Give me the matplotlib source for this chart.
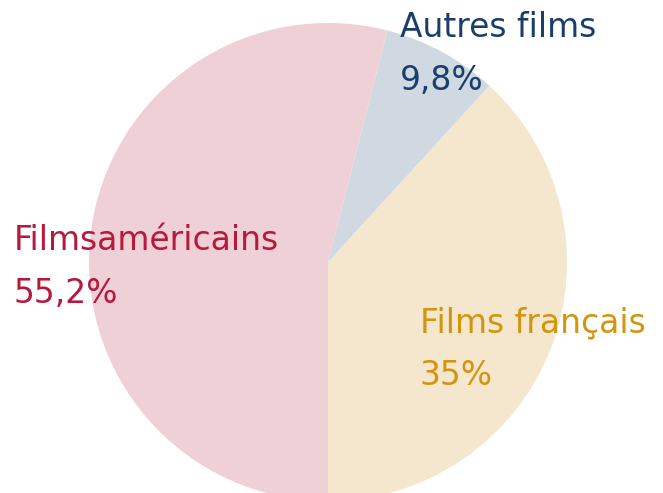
import matplotlib
matplotlib.use("Agg")
import matplotlib.pyplot as plt

# Data (wedge shares as drawn; labels as printed)
categories = ["Films français", "Autres films", "Filmsaméricains"]
shares = [38.2, 7.8, 54.0]
pct_labels = ["35%", "9,8%", "55,2%"]

wedge_colors = ["#F4E7CE", "#D0D9E2", "#F0D0D7"]
text_colors = ["#D4950D", "#1A3D6B", "#B7183C"]

W, H = 663, 493
fig = plt.figure(figsize=(W / 100, H / 100), dpi=100)
ax = fig.add_axes([0, 0, 1, 1])

ax.pie(shares, colors=wedge_colors, startangle=-90, counterclock=True,
       center=(328, H - 262), radius=239, frame=True,
       wedgeprops=dict(linewidth=0))
ax.set_xlim(0, W)
ax.set_ylim(0, H)
ax.set_aspect("equal")
ax.axis("off")

# label positions (pixel coords from top-left): x, name baseline, pct baseline
pos = [(420, 332, 385), (400, 37, 90), (14, 250, 303)]
fs = 23.7
for cat, pct, col, (x, yb1, yb2) in zip(categories, pct_labels, text_colors, pos):
    ax.text(x, H - yb1, cat, color=col, fontsize=fs, ha="left", va="baseline",
            family="DejaVu Sans")
    ax.text(x, H - yb2, pct, color=col, fontsize=fs, ha="left", va="baseline",
            family="DejaVu Sans")

fig.savefig("out.png", dpi=100)
